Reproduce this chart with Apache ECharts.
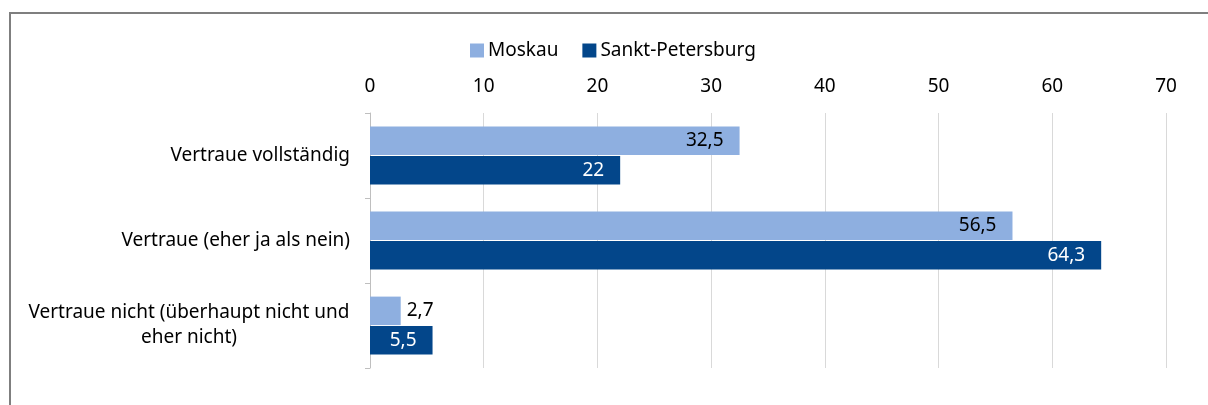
<!DOCTYPE html>
<html>
<head>
<meta charset="utf-8">
<script src="https://cdn.jsdelivr.net/npm/echarts@6/dist/echarts.min.js"></script>
<style>
  html, body { margin: 0; padding: 0; background: #fff; }
  #main { width: 1208px; height: 405px; }
</style>
</head>
<body>
<div id="main"></div>
<script>
  // Kategorien (von oben nach unten)
  var categories = [
    "Vertraue vollständig",
    "Vertraue (eher ja als nein)",
    "Vertraue nicht (überhaupt nicht und eher nicht)"
  ];
  var moskau = [32.5, 56.5, 2.7];
  var petersburg = [22, 64.3, 5.5];
  var xTicks = [0, 10, 20, 30, 40, 50, 60, 70];

  var font = "Noto Sans";
  var fs = 19;

  function fmt(p) {
    return String(p.value).replace(".", ",");
  }

  // kurze Balken bekommen das Label rechts daneben
  function withLabels(values, color) {
    return values.map(function (v) {
      if (v < 4) {
        return { value: v, label: { position: "right", distance: 6, color: "#000" } };
      }
      return { value: v, label: { color: color } };
    });
  }

  var chart = echarts.init(document.getElementById("main"));
  var option = {
    animation: false,
    textStyle: { fontFamily: font },
    graphic: [
      {
        type: "polyline",
        shape: { points: [[10, 420], [10, 13], [1220, 13]] },
        style: { stroke: "#7f7f7f", lineWidth: 2, fill: null }
      }
    ],
    legend: {
      top: 36,
      left: 465,
      itemWidth: 14,
      itemHeight: 14,
      itemGap: 24,
      icon: "rect",
      textStyle: { fontSize: fs, color: "#000", fontFamily: font, padding: [0, 0, 0, -1] },
      data: ["Moskau", "Sankt-Petersburg"]
    },
    grid: { left: 370, right: 42, top: 113, bottom: 37, containLabel: false },
    xAxis: {
      type: "value",
      position: "top",
      min: xTicks[0],
      max: xTicks[xTicks.length - 1],
      interval: 10,
      axisLine: { show: false },
      axisTick: { show: false },
      axisLabel: { fontSize: fs, color: "#000", margin: 17, fontFamily: font },
      splitLine: { show: true, lineStyle: { color: "#d9d9d9", width: 1 } }
    },
    yAxis: {
      type: "category",
      inverse: true,
      data: categories,
      axisLine: { show: true, lineStyle: { color: "#bfbfbf", width: 1 } },
      axisTick: { show: true, length: 5, lineStyle: { color: "#bfbfbf" } },
      axisLabel: {
        fontSize: fs,
        color: "#000",
        margin: 20,
        fontFamily: font,
        formatter: function (v) {
          if (v.indexOf("überhaupt") >= 0) {
            return "{c|Vertraue nicht (überhaupt nicht und}\n{c|eher nicht)}";
          }
          return v;
        },
        rich: {
          c: { width: 322, align: "center", fontSize: fs, lineHeight: 25, color: "#000", fontFamily: font }
        }
      }
    },
    series: [
      {
        name: "Moskau",
        type: "bar",
        barGap: "3%",
        barCategoryGap: "32%",
        itemStyle: { color: "#8EAFE0" },
        label: {
          show: true,
          position: "insideRight",
          distance: 16,
          fontSize: fs,
          fontFamily: font,
          formatter: fmt
        },
        data: withLabels(moskau, "#000")
      },
      {
        name: "Sankt-Petersburg",
        type: "bar",
        itemStyle: { color: "#03468A" },
        label: {
          show: true,
          position: "insideRight",
          distance: 16,
          fontSize: fs,
          fontFamily: font,
          formatter: fmt
        },
        data: withLabels(petersburg, "#fff")
      }
    ]
  };
  option && chart.setOption(option);
</script>
</body>
</html>
